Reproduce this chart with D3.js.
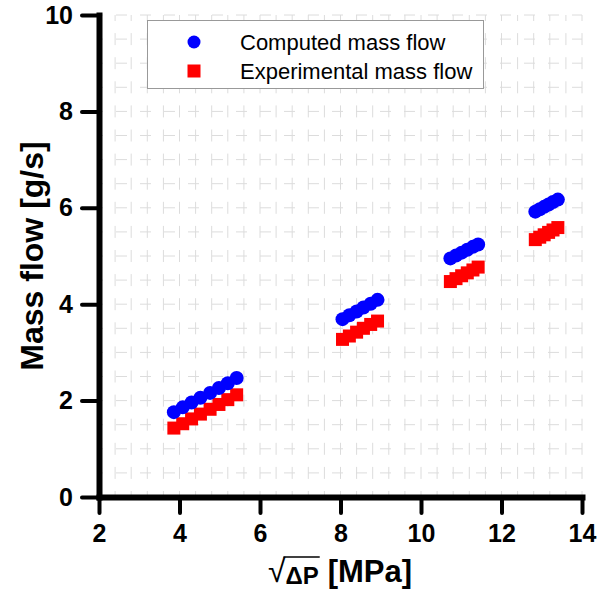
<!DOCTYPE html>
<html>
<head>
<meta charset="utf-8">
<title>Mass flow vs sqrt dP</title>
<script src="https://cdn.jsdelivr.net/npm/d3@7"></script>
<style>
  body { margin: 0; background: #fff; }
  svg { display: block; font-family: Arial, "Liberation Sans", sans-serif; }
  .grid line { stroke: #dcdcdc; stroke-width: 1; }
  .axis path { stroke: #000; stroke-width: 6; stroke-linecap: square; }
  .axis line { stroke: #000; stroke-width: 4; stroke-linecap: round; }
  .axis text { font-size: 25px; font-weight: bold; fill: #000; }
</style>
</head>
<body>
<script>
// sqrt(dP) values of the four test groups
const sqrtDP = [3.86, 4.08, 4.30, 4.52, 4.76, 4.98, 5.20, 5.42,
                8.05, 8.22, 8.40, 8.57, 8.75, 8.92,
                10.73, 10.87, 11.01, 11.15, 11.29, 11.42,
                12.84, 12.95, 13.06, 13.17, 13.28, 13.40];
const computed = [1.76, 1.86, 1.96, 2.06, 2.16, 2.26, 2.36, 2.47,
                  3.69, 3.77, 3.85, 3.93, 4.01, 4.09,
                  4.95, 5.01, 5.07, 5.13, 5.19, 5.24,
                  5.92, 5.97, 6.02, 6.07, 6.12, 6.17];
const experimental = [1.43, 1.52, 1.62, 1.72, 1.82, 1.92, 2.02, 2.12,
                      3.27, 3.34, 3.42, 3.50, 3.58, 3.65,
                      4.47, 4.53, 4.59, 4.65, 4.71, 4.77,
                      5.34, 5.39, 5.44, 5.49, 5.54, 5.59];
const seriesNames = ["Computed mass flow", "Experimental mass flow"];
const xTicks = [2, 4, 6, 8, 10, 12, 14];
const yTicks = [0, 2, 4, 6, 8, 10];

const W = 597, H = 591;
const x = d3.scaleLinear().domain([2, 14]).range([99, 582]);
const y = d3.scaleLinear().domain([0, 10]).range([497, 15]);

const xMinor = d3.range(2, 14.001, 0.4);
const yMinor = d3.range(0, 10.001, 0.5);

const svg = d3.select("body").append("svg")
  .attr("width", W).attr("height", H);

// dashed grid on the minor tick positions
const dy = y(0) - y(0.5);
const grid = svg.append("g").attr("class", "grid");
grid.selectAll(".gv").data(xMinor.slice(1)).enter().append("line")
  .attr("x1", d => x(d)).attr("x2", d => x(d))
  .attr("y1", y(0)).attr("y2", y(10))
  .attr("stroke-dasharray", "12," + (dy - 12))
  .attr("stroke-dashoffset", 6);
grid.selectAll(".gh").data(yMinor.slice(1)).enter().append("line")
  .attr("x1", x(2)).attr("x2", x(14))
  .attr("y1", d => y(d)).attr("y2", d => y(d))
  .attr("stroke-dasharray", "11,13")
  .attr("stroke-dashoffset", -17);

// axes
const gx = svg.append("g").attr("class", "axis").attr("transform", "translate(0," + y(0) + ")");
gx.call(d3.axisBottom(x).tickValues(xMinor).tickSize(9).tickFormat("").tickSizeOuter(0));
gx.call(d3.axisBottom(x).tickValues(xTicks).tickSize(16).tickPadding(11).tickSizeOuter(0));

const gy = svg.append("g").attr("class", "axis").attr("transform", "translate(" + x(2) + ",0)");
gy.call(d3.axisLeft(y).tickValues(yMinor).tickSize(9).tickFormat("").tickSizeOuter(0));
gy.call(d3.axisLeft(y).tickValues(yTicks).tickSize(17).tickPadding(9).tickSizeOuter(0));
svg.selectAll(".axis .domain").attr("fill", "none");

// markers
svg.append("g").selectAll("rect")
  .data(sqrtDP).enter().append("rect")
  .attr("x", d => x(d) - 6.5)
  .attr("y", (d, i) => y(experimental[i]) - 6.5)
  .attr("width", 13).attr("height", 13)
  .attr("fill", "#ff0000");
svg.append("g").selectAll("circle")
  .data(sqrtDP).enter().append("circle")
  .attr("cx", d => x(d))
  .attr("cy", (d, i) => y(computed[i]))
  .attr("r", 7)
  .attr("fill", "#0000ff");

// legend
const lg = svg.append("g");
lg.append("rect").attr("x", 147.5).attr("y", 20.5).attr("width", 336).attr("height", 68)
  .attr("fill", "#fff").attr("stroke", "#999").attr("stroke-width", 1);
lg.append("circle").attr("cx", 194).attr("cy", 42).attr("r", 6.5).attr("fill", "#0000ff");
lg.append("rect").attr("x", 187.5).attr("y", 64.5).attr("width", 13).attr("height", 13).attr("fill", "#ff0000");
lg.selectAll("text").data(seriesNames).enter().append("text")
  .attr("x", 240).attr("y", (d, i) => 42 + i * 29)
  .attr("dy", "0.36em")
  .style("font-size", "22px")
  .text(d => d);

// y title
svg.append("text")
  .attr("transform", "translate(43,256) rotate(-90)")
  .style("text-anchor", "middle")
  .style("font-size", "32px").style("font-weight", "bold")
  .text("Mass flow [g/s]");

// x title: sqrt sign, overlined dP, unit
const xt = svg.append("g");
const rad = xt.append("text").attr("y", 582).style("font-size", "32px").text("\u221A");
const dp = xt.append("text").attr("y", 584).style("font-size", "24px").style("font-weight", "bold").text("\u0394P");
const unit = xt.append("text").attr("y", 582).style("font-size", "31px").style("font-weight", "bold").text("[MPa]");
const gap = 9;
const w1 = rad.node().getComputedTextLength(),
      w2 = dp.node().getComputedTextLength(),
      w3 = unit.node().getComputedTextLength();
const x0 = 340 - (w1 + w2 + gap + w3) / 2;
rad.attr("x", x0);
dp.attr("x", x0 + w1);
unit.attr("x", x0 + w1 + w2 + gap);
xt.append("line")
  .attr("x1", x0 + w1 - 2).attr("x2", x0 + w1 + w2 + 1)
  .attr("y1", 557).attr("y2", 557)
  .attr("stroke", "#000").attr("stroke-width", 1.5);
</script>
</body>
</html>
